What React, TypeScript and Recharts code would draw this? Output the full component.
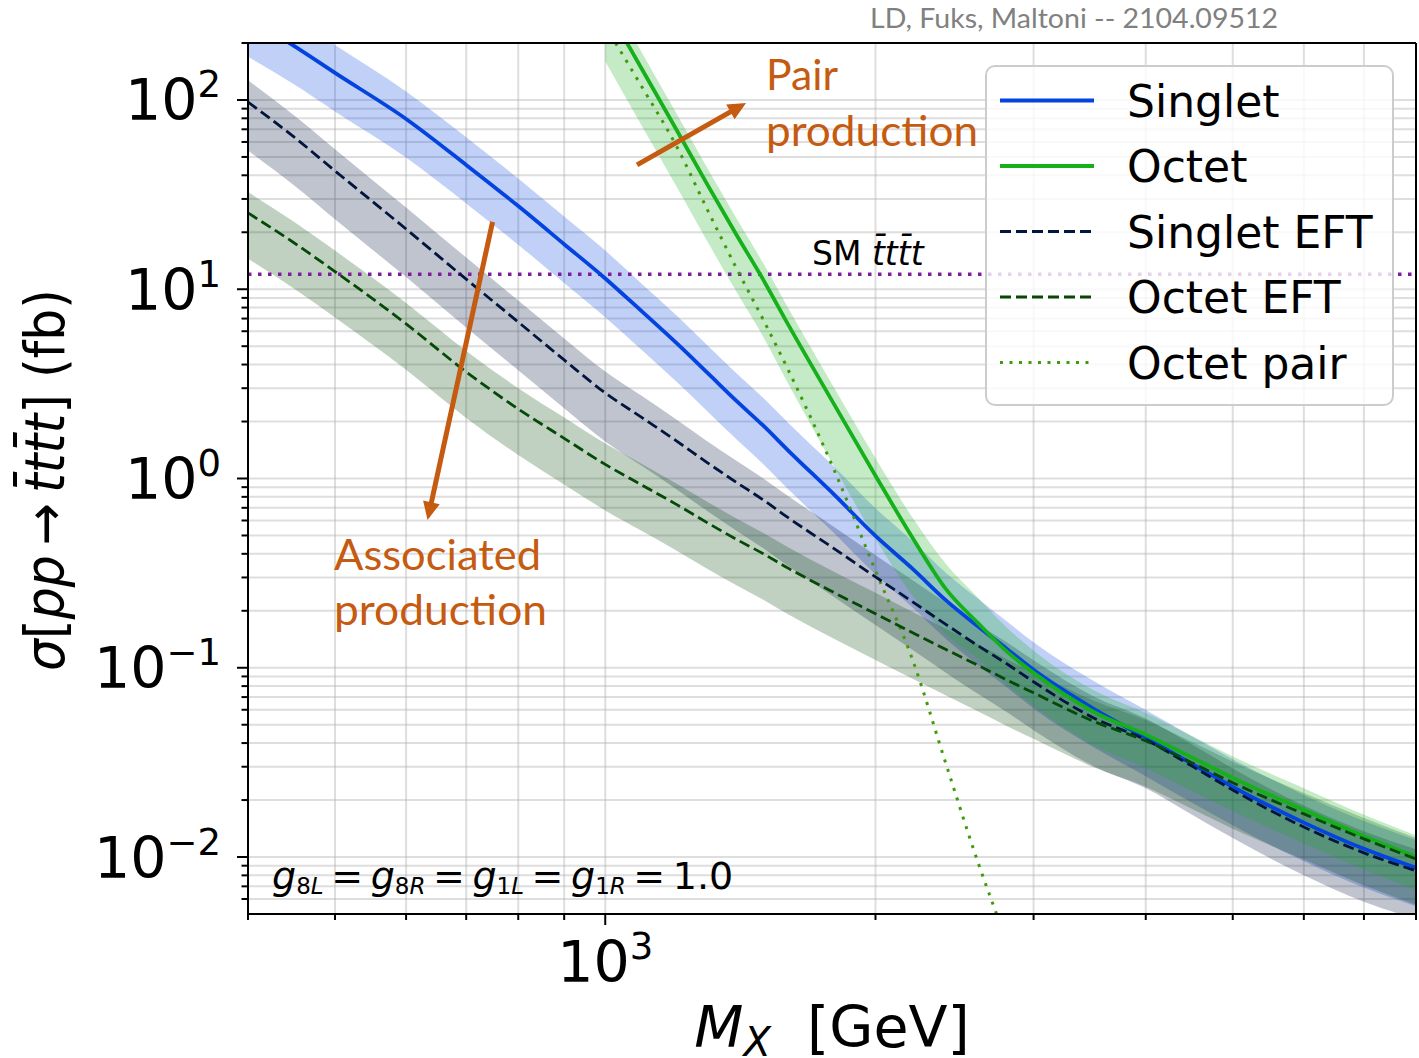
import React from 'react';
import {
  ComposedChart,
  Area,
  Line,
  XAxis,
  YAxis,
  CartesianGrid,
  ReferenceLine,
  Legend,
} from 'recharts';

// ---------------- data ----------------
const massGeV = [400, 450, 500, 600, 700, 800, 900, 1000, 1100, 1200, 1300, 1400, 1500, 1600, 1800, 2000, 2200, 2400, 2600, 2800, 3000, 3500, 4000, 4500, 5000, 6000, 7000, 8000];

const singlet = [271, 193, 139, 79.4, 45.4, 27.5, 17.3, 11.4, 7.59, 5.2, 3.61, 2.57, 1.9, 1.4, 0.819, 0.497, 0.333, 0.2255, 0.1656, 0.126, 0.0975, 0.0607, 0.0427, 0.0311, 0.0235, 0.0152, 0.01105, 0.00877];
const singletHi = [380, 270, 195, 111, 63.6, 38.5, 24.2, 16.0, 10.6, 7.28, 5.05, 3.6, 2.66, 1.96, 1.15, 0.696, 0.466, 0.315, 0.232, 0.176, 0.1365, 0.085, 0.0598, 0.0435, 0.0329, 0.0213, 0.0155, 0.0123];
const singletLo = [169, 121, 87, 49.6, 28.4, 17.2, 10.8, 7.12, 4.74, 3.25, 2.26, 1.61, 1.19, 0.875, 0.512, 0.311, 0.208, 0.141, 0.1035, 0.079, 0.061, 0.038, 0.0267, 0.0194, 0.0147, 0.0095, 0.0069, 0.0055];

const singletEFT = [97.5, 63.8, 42.2, 20.8, 11.3, 6.71, 4.23, 2.83, 2.09, 1.58, 1.21, 0.954, 0.77, 0.619, 0.425, 0.302, 0.223, 0.1685, 0.131, 0.105, 0.0843, 0.0543, 0.0416, 0.0303, 0.0226, 0.0144, 0.01052, 0.00845];
const singletEFTHi = [127, 83, 54.9, 27, 14.7, 8.72, 5.5, 3.68, 2.72, 2.05, 1.57, 1.24, 1.0, 0.805, 0.553, 0.393, 0.29, 0.219, 0.17, 0.1365, 0.1096, 0.0706, 0.054, 0.0394, 0.0294, 0.0187, 0.0137, 0.011];
const singletEFTLo = [54, 35.4, 23.4, 11.6, 6.28, 3.73, 2.35, 1.57, 1.16, 0.878, 0.672, 0.53, 0.428, 0.344, 0.236, 0.168, 0.124, 0.0936, 0.0728, 0.0583, 0.0468, 0.0302, 0.0231, 0.0168, 0.0126, 0.008, 0.0058, 0.0047];

const octetEFT = [25.3, 17.6, 12.4, 6.56, 3.66, 2.33, 1.63, 1.187, 0.92, 0.73, 0.583, 0.477, 0.4, 0.335, 0.249, 0.193, 0.153, 0.1244, 0.103, 0.0863, 0.0737, 0.0521, 0.0411, 0.0315, 0.0247, 0.0169, 0.01247, 0.00977];
const octetEFTHi = [32.6, 22.7, 16.0, 8.46, 4.72, 3.0, 2.1, 1.53, 1.19, 0.94, 0.752, 0.615, 0.516, 0.432, 0.321, 0.249, 0.197, 0.16, 0.133, 0.111, 0.095, 0.067, 0.053, 0.0406, 0.0319, 0.0218, 0.0161, 0.0126];
const octetEFTLo = [14.5, 10.1, 7.09, 3.75, 2.09, 1.33, 0.93, 0.678, 0.526, 0.417, 0.333, 0.273, 0.229, 0.191, 0.142, 0.11, 0.0874, 0.0711, 0.0589, 0.0493, 0.0421, 0.0298, 0.0235, 0.018, 0.0141, 0.0097, 0.0071, 0.0056];

const octet = [null, null, null, null, null, null, null, 318, 144, 69.8, 35.6, 19.4, 11.2, 6.46, 2.45, 1.035, 0.485, 0.2577, 0.1726, 0.122, 0.094, 0.0585, 0.0443, 0.0336, 0.0262, 0.01774, 0.01288, 0.01002];
const octetHi = [null, null, null, null, null, null, null, 390, 176, 85, 43.5, 23.7, 13.7, 7.9, 3.0, 1.28, 0.62, 0.35, 0.235, 0.163, 0.123, 0.076, 0.0576, 0.0437, 0.034, 0.0231, 0.0167, 0.013];
const octetLo = [null, null, null, null, null, null, null, 160, 72, 35, 17.8, 9.7, 5.6, 3.15, 1.15, 0.48, 0.24, 0.15, 0.112, 0.082, 0.063, 0.039, 0.0295, 0.0224, 0.0175, 0.0118, 0.0086, 0.0067];

const octetPair = [null, null, null, null, null, null, null, 246, 116, 57.2, 26.2, 12.9, 6.89, 3.72, 1.1, 0.325, 0.11, 0.0303, 0.00944, 0.0036, null, null, null, null, null, null, null, null];

const smValue = 12;

const xTicks = [400, 500, 600, 700, 800, 900, 1000, 2000, 3000, 4000, 5000, 6000, 7000, 8000];
const xMajor = [1000];
const yTicks = [
  0.006, 0.007, 0.008, 0.009,
  0.01, 0.02, 0.03, 0.04, 0.05, 0.06, 0.07, 0.08, 0.09,
  0.1, 0.2, 0.3, 0.4, 0.5, 0.6, 0.7, 0.8, 0.9,
  1, 2, 3, 4, 5, 6, 7, 8, 9,
  10, 20, 30, 40, 50, 60, 70, 80, 90,
  100, 200,
];
const yMajor = [0.01, 0.1, 1, 10, 100];

// annotation arrows (data coordinates: mass, cross-section)
const assocArrow = [{ x: 749, y: 22.7 }, { x: 634, y: 0.604 }];
const pairArrow = [{ x: 1085, y: 45.4 }, { x: 1435, y: 96.4 }];

const data = massGeV.map((m, i) => ({
  M: m,
  singlet: singlet[i],
  singletBand: [singletLo[i], singletHi[i]],
  singletEFT: singletEFT[i],
  singletEFTBand: [singletEFTLo[i], singletEFTHi[i]],
  octetEFT: octetEFT[i],
  octetEFTBand: [octetEFTLo[i], octetEFTHi[i]],
  octet: octet[i],
  octetBand: octetLo[i] == null ? null : [octetLo[i], octetHi[i]],
  octetPair: octetPair[i],
}));

// ---------------- styles ----------------
const C_SINGLET = '#0343df';
const C_OCTET = '#15b01a';
const C_SEFT = '#01153e';
const C_OEFT = '#054907';
const C_PAIR = '#3f9b0b';
const C_SM = '#7e1e9c';
const C_ANN = '#c55a11';
const DASH = '11 5';
const DOT = '3 6.5';
const FONT = 'DejaVu Sans, sans-serif';
const ANN_FONT = 'Lato, "Open Sans", sans-serif';

const XTick = (props: any) => {
  const { x, y, payload } = props;
  const v = payload.value;
  const major = xMajor.includes(v);
  return (
    <g>
      <line x1={x} x2={x} y1={y} y2={y + (major ? 11 : 6)} stroke="#000" strokeWidth={2} />
      {major && (
        <text x={x} y={y + 68} textAnchor="middle" fontFamily={FONT} fontSize={57} fill="#000">
          10
          <tspan dy={-23} fontSize={37}>{String(Math.round(Math.log10(v)))}</tspan>
        </text>
      )}
    </g>
  );
};

const YTick = (props: any) => {
  const { x, y, payload } = props;
  const v = payload.value;
  const major = yMajor.some((m) => Math.abs(m - v) / m < 1e-6);
  const e = Math.round(Math.log10(v));
  const es = e < 0 ? '\u2212' + String(-e) : String(e);
  return (
    <g>
      <line x1={x} x2={x - (major ? 11 : 6.5)} y1={y} y2={y} stroke="#000" strokeWidth={2} />
      {major && (
        <text x={x - 27} y={y + 20.5} textAnchor="end" fontFamily={FONT} fontSize={57} fill="#000">
          10
          <tspan dy={-23} fontSize={37}>{es}</tspan>
        </text>
      )}
    </g>
  );
};

const ArrowShape = (props: any) => {
  const { x1, y1, x2, y2 } = props;
  const dx = x2 - x1;
  const dy = y2 - y1;
  const len = Math.hypot(dx, dy) || 1;
  const ux = dx / len;
  const uy = dy / len;
  const headL = 18;
  const headW = 8.5;
  const bx = x2 - ux * headL;
  const by = y2 - uy * headL;
  return (
    <g>
      <line x1={x1} y1={y1} x2={bx + ux * 2} y2={by + uy * 2} stroke={C_ANN} strokeWidth={5} />
      <polygon
        points={`${x2},${y2} ${bx - uy * headW},${by + ux * headW} ${bx + uy * headW},${by - ux * headW}`}
        fill={C_ANN}
      />
    </g>
  );
};

const legendItems = [
  { name: 'Singlet', color: C_SINGLET, dash: undefined as string | undefined, width: 4 },
  { name: 'Octet', color: C_OCTET, dash: undefined as string | undefined, width: 4 },
  { name: 'Singlet EFT', color: C_SEFT, dash: DASH, width: 3 },
  { name: 'Octet EFT', color: C_OEFT, dash: DASH, width: 3 },
  { name: 'Octet pair', color: C_PAIR, dash: DOT, width: 3 },
];

const LEG_W = 409;
const LEG_H = 341;

const renderLegend = () => (
  <div
    style={{
      position: 'relative',
      width: LEG_W,
      height: LEG_H,
      boxSizing: 'border-box',
      border: '2.5px solid #cccccc',
      borderRadius: 10,
      background: 'rgba(255,255,255,0.8)',
    }}
  >
    <svg width={LEG_W} height={LEG_H} style={{ position: 'absolute', left: -2.5, top: -2.5, overflow: 'visible' }}>
      {legendItems.map((it, i) => {
        const cy = 35.5 + i * 65.5;
        return (
          <g key={it.name}>
            <line x1={15} x2={109} y1={cy} y2={cy} stroke={it.color} strokeWidth={it.width} strokeDasharray={it.dash} />
            <text x={142} y={cy + 16} fontFamily={FONT} fontSize={44} fill="#000">
              {it.name}
            </text>
          </g>
        );
      })}
    </svg>
  </div>
);

export default function App() {
  return (
    <div style={{ position: 'absolute', left: 0, top: 0, width: 1419, height: 1058, background: '#fff' }}>
      <ComposedChart width={1419} height={1058} data={data} margin={{ top: 43, right: 3, bottom: 0, left: 0 }}>
        <CartesianGrid stroke="#b0b0b0" strokeOpacity={0.42} strokeWidth={2} />
        <XAxis
          dataKey="M"
          type="number"
          scale="log"
          domain={[400, 8000]}
          allowDataOverflow
          ticks={xTicks}
          interval={0}
          tick={<XTick />}
          tickLine={false}
          tickSize={0}
          tickMargin={0}
          axisLine={{ stroke: '#000', strokeWidth: 2 }}
          height={144}
        />
        <YAxis
          type="number"
          scale="log"
          domain={[0.005, 200]}
          allowDataOverflow
          ticks={yTicks}
          interval={0}
          tick={<YTick />}
          tickLine={false}
          tickSize={0}
          tickMargin={0}
          axisLine={{ stroke: '#000', strokeWidth: 2 }}
          width={248}
        />

        <Area dataKey="singletBand" type="monotone" stroke="none" fill={C_SINGLET} fillOpacity={0.25} isAnimationActive={false} activeDot={false} />
        <Area dataKey="singletEFTBand" type="monotone" stroke="none" fill={C_SEFT} fillOpacity={0.25} isAnimationActive={false} activeDot={false} />
        <Area dataKey="octetEFTBand" type="monotone" stroke="none" fill={C_OEFT} fillOpacity={0.25} isAnimationActive={false} activeDot={false} />
        <Area dataKey="octetBand" type="monotone" stroke="none" fill={C_OCTET} fillOpacity={0.25} isAnimationActive={false} activeDot={false} />

        <ReferenceLine y={smValue} stroke={C_SM} strokeWidth={3.5} strokeDasharray="3.5 6.5" />

        <Line dataKey="singlet" type="monotone" stroke={C_SINGLET} strokeWidth={3.8} dot={false} activeDot={false} isAnimationActive={false} />
        <Line dataKey="octet" type="monotone" stroke={C_OCTET} strokeWidth={3.8} dot={false} activeDot={false} isAnimationActive={false} />
        <Line dataKey="octetPair" type="monotone" stroke={C_PAIR} strokeWidth={3} strokeDasharray="3 7" dot={false} activeDot={false} isAnimationActive={false} />
        <Line dataKey="singletEFT" type="monotone" stroke={C_SEFT} strokeWidth={2.8} strokeDasharray={DASH} dot={false} activeDot={false} isAnimationActive={false} />
        <Line dataKey="octetEFT" type="monotone" stroke={C_OEFT} strokeWidth={2.8} strokeDasharray={DASH} dot={false} activeDot={false} isAnimationActive={false} />

        <ReferenceLine segment={assocArrow} ifOverflow="visible" shape={(p: any) => <ArrowShape {...p} />} />
        <ReferenceLine segment={pairArrow} ifOverflow="visible" shape={(p: any) => <ArrowShape {...p} />} />

        <ReferenceLine y={200} stroke="#000" strokeWidth={2} ifOverflow="visible" />
        <ReferenceLine x={8000} stroke="#000" strokeWidth={2} ifOverflow="visible" />

        <Legend
          layout="vertical"
          align="center"
          verticalAlign="middle"
          content={renderLegend}
          wrapperStyle={{ position: 'absolute', left: 985, top: 65, width: LEG_W, height: LEG_H, margin: 0, padding: 0 }}
        />
      </ComposedChart>

      <svg
        width={1419}
        height={1058}
        style={{ position: 'absolute', left: 0, top: 0, pointerEvents: 'none' }}
      >
        <text x={870} y={27.5} textLength={408} lengthAdjust="spacingAndGlyphs" fontFamily={ANN_FONT} fontSize={27} fill="#808080">
          LD, Fuks, Maltoni -- 2104.09512
        </text>

        <text x={766} y={90} textLength={72} lengthAdjust="spacingAndGlyphs" fontFamily={ANN_FONT} fontSize={43} fill={C_ANN}>Pair</text>
        <text x={766} y={146} textLength={212} lengthAdjust="spacingAndGlyphs" fontFamily={ANN_FONT} fontSize={43} fill={C_ANN}>production</text>
        <text x={334} y={570} textLength={207} lengthAdjust="spacingAndGlyphs" fontFamily={ANN_FONT} fontSize={43} fill={C_ANN}>Associated</text>
        <text x={334} y={625} textLength={213} lengthAdjust="spacingAndGlyphs" fontFamily={ANN_FONT} fontSize={43} fill={C_ANN}>production</text>

        <text x={812} y={265} fontFamily={FONT} fontSize={33} fill="#000">
          SM{'\u00a0'}
          <tspan fontStyle="italic">{'t\u0304tt\u0304t'}</tspan>
        </text>

        <text x={272} y={889} fontFamily={FONT} fontSize={38} fill="#000">
          <tspan fontStyle="italic">g</tspan>
          <tspan fontSize={23} dy={5}>8</tspan>
          <tspan fontSize={23} fontStyle="italic">L</tspan>
          <tspan dy={-5}>{'\u2009=\u2009'}</tspan>
          <tspan fontStyle="italic">g</tspan>
          <tspan fontSize={23} dy={5}>8</tspan>
          <tspan fontSize={23} fontStyle="italic">R</tspan>
          <tspan dy={-5}>{'\u2009=\u2009'}</tspan>
          <tspan fontStyle="italic">g</tspan>
          <tspan fontSize={23} dy={5}>1</tspan>
          <tspan fontSize={23} fontStyle="italic">L</tspan>
          <tspan dy={-5}>{'\u2009=\u2009'}</tspan>
          <tspan fontStyle="italic">g</tspan>
          <tspan fontSize={23} dy={5}>1</tspan>
          <tspan fontSize={23} fontStyle="italic">R</tspan>
          <tspan dy={-5}>{'\u2009=\u2009'}1.0</tspan>
        </text>

        <text x={832} y={1047} textAnchor="middle" fontFamily={FONT} fontSize={57} fill="#000">
          <tspan fontStyle="italic">M</tspan>
          <tspan fontStyle="italic" fontSize={40} dy={9}>X</tspan>
          <tspan dy={-9}>{'\u00a0\u00a0[GeV]'}</tspan>
        </text>

        <text transform="translate(64,480) rotate(-90)" textAnchor="middle" textLength={382} lengthAdjust="spacingAndGlyphs" fontFamily={FONT} fontSize={55} fill="#000">
          <tspan fontStyle="italic">σ</tspan>
          [
          <tspan fontStyle="italic">pp</tspan>
          {'\u2009\u2192\u2009'}
          <tspan fontStyle="italic">{'t\u0304tt\u0304t'}</tspan>
          ] (fb)
        </text>
      </svg>
    </div>
  );
}
